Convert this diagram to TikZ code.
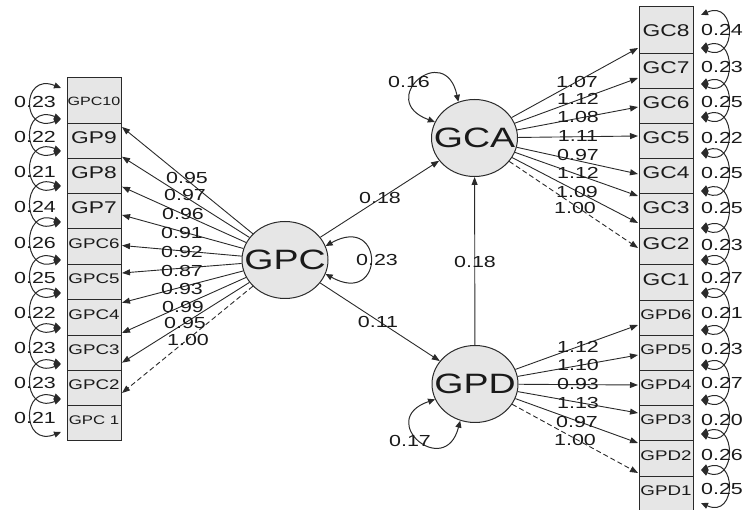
\documentclass[tikz,border=0pt]{standalone}
\usepackage{fontspec}
\setmainfont[FakeStretch=1.34]{Liberation Sans}
\usetikzlibrary{arrows.meta,shapes.geometric}
\definecolor{lc}{HTML}{2A2A2A}
\definecolor{bf}{HTML}{E6E6E6}
\definecolor{tc}{HTML}{1A1A1A}
\newcommand{\fsz}[1]{\fontsize{#1}{#1}\selectfont}
\begin{document}
\begin{tikzpicture}[x=1pt,y=-1pt,
  box/.style={draw=lc, fill=bf, line width=1pt, minimum width=54pt, inner sep=0pt, text=tc},
  lat/.style={ellipse, draw=lc, fill=bf, line width=1pt, minimum width=86pt, minimum height=77pt, inner sep=0pt, text=tc, font=\fsz{28}},
  num/.style={inner sep=0pt, text=tc, font=\fsz{16}},
  ld/.style={draw=lc, line width=0.9pt, -{Triangle[length=8pt,width=6pt]}},
  ldd/.style={ld, dash pattern=on 5pt off 3pt},
  vl/.style={draw=lc, line width=1pt, {Triangle[length=7pt,width=6pt]}-{Triangle[length=7pt,width=6pt]}}
]
\useasboundingbox (0,0) rectangle (745,510);

% left indicator column
\foreach \n/\t/\a/\b/\f/\d in {gpc10/GPC10/78/124/12/0pt, gp9/GP9/124/159/17/7pt, gp8/GP8/159/194/17/7pt, gp7/GP7/194/229/17/7pt, gpc6/GPC6/229/265/14/7pt, gpc5/GPC5/265/300/14/7pt, gpc4/GPC4/300/336/14/7pt, gpc3/GPC3/336/371/14/7pt, gpc2/GPC2/371/406/14/7pt, gpc1/GPC 1/406/441/12.5/7pt}
  \node[box, minimum height={(\b-\a)*1pt}, text depth=\d, font=\fsz{\f}] (\n) at (94,{(\a+\b)/2}) {\t};

% right indicator column
\foreach \n/\t/\a/\b/\f/\d in {gc8/GC8/7/54/17/0pt, gc7/GC7/54/89/17/7pt, gc6/GC6/89/124/17/7pt, gc5/GC5/124/159/17/7pt, gc4/GC4/159/194/17/7pt, gc3/GC3/194/229/17/7pt, gc2/GC2/229/265/17/7pt, gc1/GC1/265/301/17/7pt, gpd6/GPD6/301/336/14/7pt, gpd5/GPD5/336/371/14/7pt, gpd4/GPD4/371/406/14/7pt, gpd3/GPD3/406/441/14/7pt, gpd2/GPD2/441/477/14/7pt, gpd1/GPD1/477/512/14/7pt}
  \node[box, minimum height={(\b-\a)*1pt}, text depth=\d, font=\fsz{\f}] (\n) at (666,{(\a+\b)/2}) {\t};

% latent variables
\node[lat] (gpc) at (285,260) {\makebox[0pt]{GPC}};
\node[lat] (gca) at (474.5,138) {\makebox[0pt]{GCA}};
\node[lat] (gpd) at (475,384) {\makebox[0pt]{GPD}};

% left loadings
\draw[ld] (gpc) -- (122,127);
\draw[ld] (gpc) -- (122,156.7);
\draw[ld] (gpc) -- (122,186.7);
\draw[ld] (gpc) -- (122,215);
\draw[ld] (gpc) -- (122,245.5);
\draw[ld] (gpc) -- (122,273);
\draw[ld] (gpc) -- (122,302.7);
\draw[ld] (gpc) -- (122,333);
\draw[ld] (gpc) -- (122,362.7);
\draw[ldd] (gpc) -- (122,393);
\foreach \n/\v/\x/\y in {la/0.95/187/178, lb/0.97/185/195, lc/0.96/183/214, ld/0.91/182/233, le/0.92/182/252, lf/0.87/182/271, lg/0.93/182/289, lh/0.99/183/307, li/0.95/185/323, lj/1.00/188/340}
  \node[num] (\n) at (\x,\y) {\v};

% right loadings (GCA)
\draw[ld] (gca) -- (638,48);
\draw[ld] (gca) -- (638,78);
\draw[ld] (gca) -- (638,107);
\draw[ld] (gca) -- (638,136);
\draw[ld] (gca) -- (638,174);
\draw[ld] (gca) -- (638,196);
\draw[ld] (gca) -- (638,223);
\draw[ldd] (gca) -- (638,248);
\foreach \n/\v/\x/\y in {ra/1.07/577/82, rb/1.12/578/99, rc/1.08/578/117, rd/1.11/578/136, re/0.97/578/155, rf/1.12/578/173, rg/1.09/577/192, rh/1.00/575/208}
  \node[num] (\n) at (\x,\y) {\v};

% right loadings (GPD)
\draw[ld] (gpd) -- (638,325);
\draw[ld] (gpd) -- (638,355);
\draw[ld] (gpd) -- (638,385);
\draw[ld] (gpd) -- (638,413);
\draw[ld] (gpd) -- (638,443);
\draw[ldd] (gpd) -- (638,473);
\foreach \n/\v/\x/\y in {pa/1.12/578/347, pb/1.10/578/365, pc/0.93/578/384, pd/1.13/578/403, pe/0.97/577/422, pf/1.00/575/440}
  \node[num] (\n) at (\x,\y) {\v};

% structural paths
\draw[ld] (gpc) -- (gca);
\draw[ld] (gpc) -- (gpd);
\draw[ld] (gpd) -- (gca);
\node[num] (s1) at (380,198) {0.18};
\node[num] (s2) at (378,322) {0.11};
\node[num] (s3) at (475,262) {0.18};

% latent variances
\draw[vl] (gpc.19) .. controls (385,213) and (385,307) .. (gpc.-19);
\node[num] (v1) at (377,260) {0.23};
\draw[vl] (gca.158) .. controls (375,100) and (445,40) .. (gca.114);
\node[num] (v2) at (409,82) {0.16};
\draw[vl] (gpd.201) .. controls (375,420) and (445,480) .. (gpd.248);
\node[num] (v3) at (410,441) {0.17};

% left error variances
\foreach \a/\b in {88/119, 119/151, 151/186, 186/222, 222/260, 260/293, 293/328, 328/364, 364/399, 399/432}
  \draw[vl] (61,\a) .. controls +(-40,-16) and +(-40,16) .. (61,\b);
\foreach \n/\v/\y in {ea/0.23/102, eb/0.22/137, ec/0.21/172, ed/0.24/207, ee/0.26/243, ef/0.25/278, eg/0.22/313, eh/0.23/348, ei/0.23/383, ej/0.21/418}
  \node[num] (\n) at (35,\y) {\v};

% right error variances
\foreach \a/\b in {15/48, 48/84, 84/117, 117/153, 153/191, 191/228, 228/260, 260/293, 293/330, 330/365, 365/400, 400/434, 434/470, 470/503}
  \draw[vl] (701,\a) .. controls +(36,-16) and +(36,16) .. (701,\b);
\foreach \n/\v/\y in {fa/0.24/30, fb/0.23/67, fc/0.25/102, fd/0.22/138, fe/0.25/173, ff/0.25/208, fg/0.23/245, fh/0.27/278, fi/0.21/313, fj/0.23/349, fk/0.27/383, fl/0.20/420, fm/0.26/455, fn/0.25/489}
  \node[num] (\n) at (722,\y) {\v};
\end{tikzpicture}
\end{document}
